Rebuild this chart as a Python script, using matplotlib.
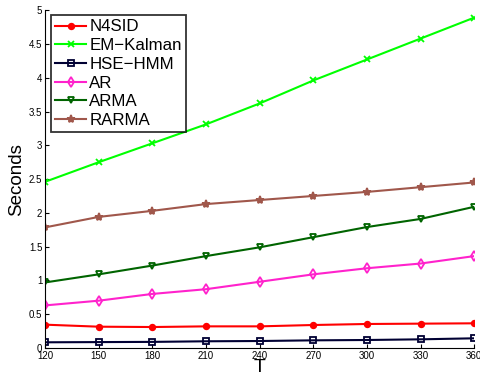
import matplotlib
import matplotlib.pyplot as plt

matplotlib.use("Agg")

plt.rcParams["font.family"] = ["Liberation Sans", "DejaVu Sans"]

T = [120, 150, 180, 210, 240, 270, 300, 330, 360]

n4sid = [0.345, 0.315, 0.31, 0.32, 0.32, 0.34, 0.355, 0.36, 0.365]
em_kalman = [2.46, 2.75, 3.03, 3.31, 3.62, 3.96, 4.27, 4.58, 4.89]
hse_hmm = [0.084, 0.087, 0.09, 0.099, 0.103, 0.113, 0.118, 0.128, 0.143]
ar = [0.63, 0.70, 0.80, 0.87, 0.98, 1.09, 1.18, 1.25, 1.36]
arma = [0.97, 1.09, 1.22, 1.36, 1.49, 1.64, 1.79, 1.91, 2.09]
rarma = [1.785, 1.94, 2.03, 2.13, 2.19, 2.25, 2.31, 2.38, 2.45]

series = [
    ("N4SID", n4sid, "#ff0000", "o", "#ff0000", 4),
    ("EM\u2212Kalman", em_kalman, "#00ff00", "x", "#00ff00", 4),
    ("HSE\u2212HMM", hse_hmm, "#000033", "s", "none", 4.5),
    ("AR", ar, "#ff22cc", "d", "none", 5),
    ("ARMA", arma, "#006400", "v", "none", 5),
    ("RARMA", rarma, "#a0574b", "*", "#a0574b", 6),
]

fig = plt.figure(figsize=(4.8, 3.77), dpi=100)
ax = fig.add_axes([0.094, 0.077, 0.894, 0.896])

for name, vals, color, marker, face, ms in series:
    ax.plot(T, vals, color=color, marker=marker, markerfacecolor=face,
            markeredgecolor=color, markersize=ms, markeredgewidth=1.3,
            linewidth=1.5, label=name)

ax.set_xlim(120, 360)
ax.set_ylim(0, 5)
ax.set_xticks(T)
ax.set_yticks([0, 0.5, 1, 1.5, 2, 2.5, 3, 3.5, 4, 4.5, 5])
ax.set_yticklabels(["0", "0.5", "1", "1.5", "2", "2.5", "3", "3.5", "4", "4.5", "5"])
ax.tick_params(direction="in", labelsize=7, length=3, pad=2)
ax.spines["top"].set_visible(False)
ax.spines["right"].set_visible(False)
ax.set_xlabel("T", fontsize=14, labelpad=-1)
ax.set_ylabel("Seconds", fontsize=13.5, labelpad=3)

leg = ax.legend(loc="upper left", bbox_to_anchor=(0.006, 0.995), fontsize=12.2,
                frameon=True, fancybox=False, handlelength=1.8,
                handletextpad=0.2, labelspacing=0.22, borderpad=0.25,
                borderaxespad=0.2)
leg.get_frame().set_edgecolor("black")
leg.get_frame().set_linewidth(1.3)

fig.savefig("out.png", dpi=100)
plt.close(fig)
